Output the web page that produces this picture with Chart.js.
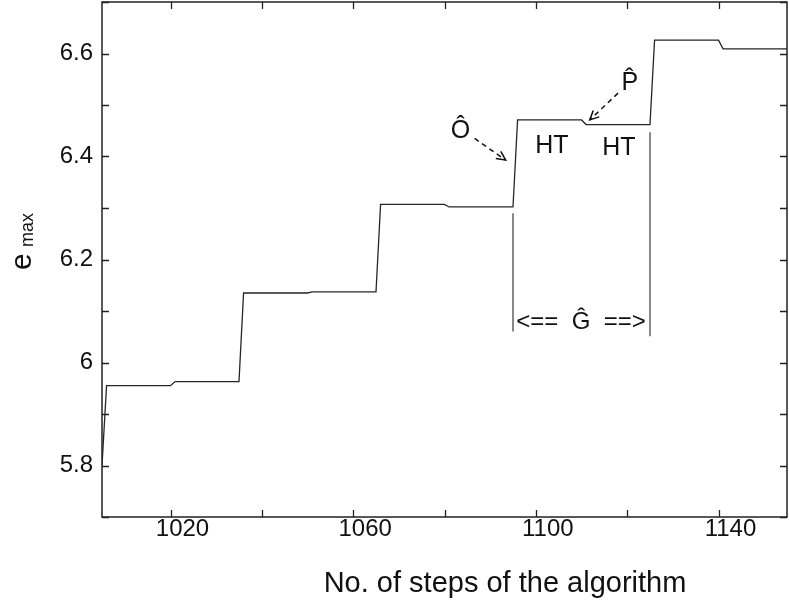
<!doctype html>
<html>
<head>
    <meta charset="UTF-8">
    <title>e_max vs steps</title>
    <style>
        html, body { margin: 0; padding: 0; background: #fff; }
        canvas { display: block; }
    </style>
</head>
<body>
<canvas id="myCanvas" width="789" height="604"></canvas>
<script src="https://cdn.jsdelivr.net/npm/chart.js@4.4.0/dist/chart.umd.min.js"></script>
<script>
// step curve: algorithm step vs e_max (break points of the staircase)
const steps = [1005, 1006, 1020, 1021, 1035, 1036, 1050, 1051, 1065, 1066, 1080, 1081,
               1095, 1096, 1110, 1111, 1125, 1126, 1140, 1141, 1155];
const emax = [5.800, 5.955, 5.955, 5.963, 5.963, 6.135, 6.135, 6.137, 6.137, 6.307, 6.307, 6.302,
              6.302, 6.471, 6.471, 6.462, 6.462, 6.626, 6.626, 6.609, 6.609];

// the two vertical marker lines of the G interval
const gLeftX = [1095, 1095];
const gLeftY = [6.290, 6.060];
const gRightX = [1125, 1125];
const gRightY = [6.447, 6.051];

// labelled ticks
const xTickLabels = [1020, 1060, 1100, 1140];
const yTickLabels = [5.8, 6, 6.2, 6.4, 6.6];

const FONT = "'Liberation Sans', Arial, Helvetica, sans-serif";

// text notes and dashed arrows, in data coordinates
const notes = [
    {text: 'Ô', x: 1083.5, y: 6.450, size: 25},
    {text: 'P\u0302', x: 1120.6, y: 6.542, size: 25},
    {text: 'HT', x: 1103.5, y: 6.420, size: 25},
    {text: 'HT', x: 1118.2, y: 6.417, size: 25},
    {text: '<==  Ĝ  ==>', x: 1109.9, y: 6.077, size: 24}
];
const arrows = [
    {from: [1086.6, 6.435], to: [1093.4, 6.393]},
    {from: [1118.0, 6.523], to: [1111.8, 6.471]}
];

function pts(xs, ys) {
    return xs.map((x, i) => ({x: x, y: ys[i]}));
}

const framePlugin = {
    id: 'frame',
    afterDraw(chart) {
        const ctx = chart.ctx;
        const a = chart.chartArea;
        const sx = chart.scales.x, sy = chart.scales.y;
        ctx.save();
        // box
        ctx.strokeStyle = '#222';
        ctx.lineWidth = 1.5;
        ctx.strokeRect(a.left, a.top, a.right - a.left, a.bottom - a.top);
        // inward ticks on all four sides
        ctx.lineWidth = 1.3;
        ctx.beginPath();
        sx.ticks.forEach(t => {
            const p = Math.round(sx.getPixelForValue(t.value)) + 0.5;
            ctx.moveTo(p, a.bottom); ctx.lineTo(p, a.bottom - 7);
            ctx.moveTo(p, a.top); ctx.lineTo(p, a.top + 7);
        });
        sy.ticks.forEach(t => {
            const p = Math.round(sy.getPixelForValue(t.value)) + 0.5;
            ctx.moveTo(a.left, p); ctx.lineTo(a.left + 7, p);
            ctx.moveTo(a.right, p); ctx.lineTo(a.right - 7, p);
        });
        ctx.stroke();

        // notes
        ctx.fillStyle = '#111';
        ctx.textAlign = 'center';
        ctx.textBaseline = 'middle';
        notes.forEach(n => {
            ctx.font = n.size + 'px ' + FONT;
            ctx.fillText(n.text, sx.getPixelForValue(n.x), sy.getPixelForValue(n.y));
        });

        // dashed arrows
        ctx.strokeStyle = '#111';
        ctx.lineWidth = 1.5;
        arrows.forEach(ar => {
            const x0 = sx.getPixelForValue(ar.from[0]), y0 = sy.getPixelForValue(ar.from[1]);
            const x1 = sx.getPixelForValue(ar.to[0]), y1 = sy.getPixelForValue(ar.to[1]);
            ctx.setLineDash([5, 4]);
            ctx.beginPath();
            ctx.moveTo(x0, y0); ctx.lineTo(x1, y1);
            ctx.stroke();
            ctx.setLineDash([]);
            const ang = Math.atan2(y1 - y0, x1 - x0);
            ctx.beginPath();
            ctx.moveTo(x1 - 10 * Math.cos(ang - 0.45), y1 - 10 * Math.sin(ang - 0.45));
            ctx.lineTo(x1, y1);
            ctx.lineTo(x1 - 10 * Math.cos(ang + 0.45), y1 - 10 * Math.sin(ang + 0.45));
            ctx.stroke();
        });

        // axis titles
        ctx.textBaseline = 'alphabetic';
        ctx.font = '29px ' + FONT;
        ctx.fillText('No. of steps of the algorithm', 505, 592);

        ctx.translate(31, 270);
        ctx.rotate(-Math.PI / 2);
        ctx.textAlign = 'left';
        ctx.font = '30px ' + FONT;
        ctx.fillText('e', 0, 0);
        ctx.font = '18px ' + FONT;
        ctx.fillText('max', 23, 2);
        ctx.restore();
    }
};

const ctx = document.getElementById('myCanvas').getContext('2d');
const myChart = new Chart(ctx, {
    type: 'line',
    data: {
        datasets: [{
            data: pts(steps, emax),
            borderColor: '#262626',
            borderWidth: 1.3,
            pointRadius: 0,
            tension: 0
        }, {
            data: pts(gLeftX, gLeftY),
            borderColor: '#4a4a4a',
            borderWidth: 1.3,
            pointRadius: 0
        }, {
            data: pts(gRightX, gRightY),
            borderColor: '#4a4a4a',
            borderWidth: 1.3,
            pointRadius: 0
        }]
    },
    options: {
        responsive: false,
        animation: false,
        layout: {padding: {top: 2, right: 2, left: 0, bottom: 0}},
        plugins: {legend: {display: false}, tooltip: {enabled: false}},
        scales: {
            x: {
                type: 'linear',
                min: 1005,
                max: 1155,
                grid: {display: false, drawTicks: false},
                border: {display: false},
                ticks: {
                    stepSize: 20,
                    includeBounds: false,
                    autoSkip: false,
                    maxRotation: 0,
                    labelOffset: 12,
                    padding: -2,
                    color: '#111',
                    font: {size: 24, family: FONT},
                    callback: v => xTickLabels.includes(v) ? String(v) : ''
                },
                afterFit: s => {
                    s.height = 87;
                    s.paddingLeft = 0;
                    s.paddingRight = 0;
                }
            },
            y: {
                type: 'linear',
                min: 5.7,
                max: 6.7,
                grid: {display: false, drawTicks: false},
                border: {display: false},
                ticks: {
                    stepSize: 0.1,
                    includeBounds: false,
                    autoSkip: false,
                    padding: 9,
                    color: '#111',
                    font: {size: 24, family: FONT},
                    callback: v => {
                        const r = Math.round(v * 10) / 10;
                        return yTickLabels.includes(r) ? String(r) : '';
                    }
                },
                afterFit: s => {
                    s.width = 102;
                    s.paddingTop = 0;
                    s.paddingBottom = 0;
                }
            }
        }
    },
    plugins: [framePlugin]
});
</script>
</body>
</html>
